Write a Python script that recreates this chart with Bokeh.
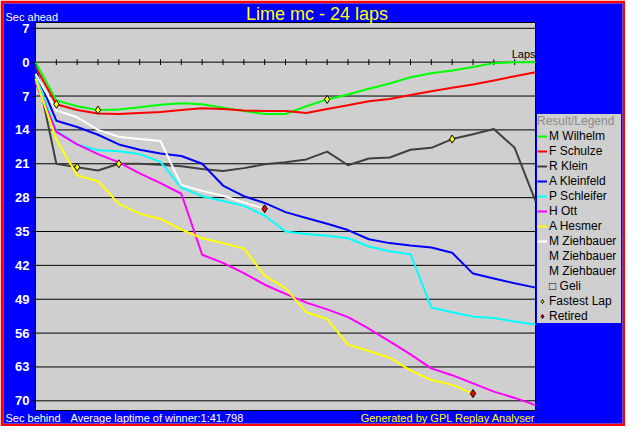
from bokeh.plotting import figure
from bokeh.models import Range1d, FixedTicker, Legend, LegendItem, Label, ColumnDataSource
from bokeh.embed import file_html
from bokeh.resources import INLINE

# ---------------- data ----------------
laps = list(range(25))

m_wilhelm = [0.0, 7.9, 9.1, 9.9, 9.8, 9.3, 8.8, 8.5, 8.7, 9.4, 10.1, 10.7, 10.7,
             9.1, 7.7, 6.7, 5.5, 4.4, 3.1, 2.3, 1.7, 1.0, 0.2, 0.0, 0.0]
f_schulze = [1.0, 8.7, 9.9, 10.6, 10.7, 10.5, 10.3, 9.9, 9.5, 9.7, 10.0, 10.1, 10.1,
             10.5, 9.7, 8.9, 8.1, 7.6, 6.8, 6.0, 5.3, 4.6, 3.8, 2.9, 2.1]
r_klein = [0.6, 21.0, 21.7, 22.4, 21.0, 21.0, 21.2, 21.5, 22.1, 22.5, 21.9, 21.1, 20.7,
           20.1, 18.5, 21.3, 19.9, 19.7, 18.1, 17.7, 15.9, 14.9, 13.8, 17.7, 28.7]
a_kleinfeld = [1.8, 12.1, 13.4, 15.0, 17.0, 18.1, 18.9, 19.4, 21.0, 25.5, 27.7, 29.1, 31.0,
               32.2, 33.4, 34.7, 36.6, 37.4, 37.9, 38.3, 39.4, 43.7, 44.7, 45.7, 46.6]
p_schleifer = [2.8, 14.2, 17.0, 18.2, 18.4, 19.0, 20.6, 25.9, 27.7, 28.7, 29.7, 31.7, 35.0,
               35.5, 35.9, 36.4, 38.1, 39.1, 39.7, 50.7, 51.7, 52.6, 52.9, 53.6, 54.2]
h_ott = [4.1, 14.4, 17.0, 19.0, 20.7, 23.0, 25.0, 27.2, 39.8, 41.5, 43.6, 46.0, 47.9,
         49.7, 51.1, 52.7, 55.1, 57.7, 60.4, 63.3, 64.7, 66.4, 68.1, 69.4, 70.9]
a_hesmer = [3.4, 16.0, 23.4, 24.6, 29.3, 31.3, 32.4, 34.6, 36.4, 37.4, 38.5, 44.1, 46.7,
            51.7, 53.1, 58.4, 59.7, 61.1, 63.7, 65.7, 66.7, 68.5]
m_ziehbauer = [2.4, 10.0, 11.4, 14.0, 15.4, 15.9, 16.3, 25.4, 26.6, 27.6, 29.0, 30.3]

fastest_lap_laps = [1, 2, 3, 4, 14, 20]
fastest_lap_gaps = [8.7, 21.7, 9.9, 21.0, 7.7, 15.9]
retired_laps = [11, 21]
retired_gaps = [30.3, 68.5]

y_ticks = [-7, 0, 7, 14, 21, 28, 35, 42, 49, 56, 63, 70]
y_labels = ["7", "0", "7", "14", "21", "28", "35", "42", "49", "56", "63", "70"]

drivers = [
    ("M Wilhelm", "#00FF00", m_wilhelm),
    ("F Schulze", "#FF0000", f_schulze),
    ("R Klein", "#404040", r_klein),
    ("A Kleinfeld", "#0000FF", a_kleinfeld),
    ("P Schleifer", "#00FFFF", p_schleifer),
    ("H Ott", "#FF00FF", h_ott),
    ("A Hesmer", "#FFFF00", a_hesmer),
    ("M Ziehbauer", "#FFFFFF", m_ziehbauer),
    ("M Ziehbauer", "#000000", []),
    ("M Ziehbauer", "#008080", []),
    ("\u25a1 Geli", "#808000", []),
]

FONT = "Liberation Sans"
FRAME_BG = "#CFCFCF"

# plot-area extent (data) and the blue margins around it (pixels)
LAP_MAX = 24
Y_TOP, Y_BOTTOM = -8.2, 72.0
BORDER = 3
CANVAS_W, CANVAS_H = 619, 420          # blue area inside the red border
PAD_L, PAD_R, PAD_T, PAD_B = 32, 87, 19, 13
GREY_W = CANVAS_W - PAD_L - PAD_R
px_lap = GREY_W / LAP_MAX
px_sec = (CANVAS_H - PAD_T - PAD_B) / (Y_BOTTOM - Y_TOP)

p = figure(width=CANVAS_W + 2 * BORDER, height=CANVAS_H + 2 * BORDER,
           output_backend="svg", toolbar_location=None,
           x_range=Range1d(-PAD_L / px_lap, LAP_MAX + PAD_R / px_lap),
           y_range=Range1d(Y_BOTTOM + PAD_B / px_sec, Y_TOP - PAD_T / px_sec),
           x_axis_location=None, min_border=BORDER)
p.title.visible = False
p.border_fill_color = "#FF0000"
p.background_fill_color = "#0000FF"
p.outline_line_color = None
for g in p.grid:
    g.visible = False

ax = p.yaxis[0]
ax.fixed_location = 0
ax.ticker = FixedTicker(ticks=y_ticks)
ax.major_label_overrides = {t: l for t, l in zip(y_ticks, y_labels)}
ax.axis_line_color = None
ax.major_tick_line_color = "black"
ax.major_tick_out = 3
ax.major_tick_in = 0
ax.minor_tick_line_color = None
ax.major_label_text_color = "white"
ax.major_label_text_font = FONT
ax.major_label_text_font_style = "bold"
ax.major_label_text_font_size = "13px"
ax.major_label_standoff = 3

# grey plotting area, grid lines and lap ticks
p.quad(left=0, right=LAP_MAX, top=Y_TOP, bottom=Y_BOTTOM,
       fill_color=FRAME_BG, line_color="black", line_width=1)
p.segment(x0=[0] * len(y_ticks), y0=y_ticks, x1=[LAP_MAX] * len(y_ticks), y1=y_ticks,
          line_color="black", line_width=1)
p.segment(x0=laps[1:], y0=[-0.6] * 24, x1=laps[1:], y1=[0.6] * 24,
          line_color="black", line_width=1)

items = []
for name, color, gaps in drivers:
    src = ColumnDataSource(data=dict(x=laps[:len(gaps)], y=gaps))
    r = p.line("x", "y", source=src, line_color=color, line_width=2)
    items.append(LegendItem(label=name, renderers=[r]))

fl = p.scatter(fastest_lap_laps, fastest_lap_gaps, marker="diamond", size=8,
               fill_color="#FFFF00", line_color="black", line_width=1)
rt = p.scatter(retired_laps, retired_gaps, marker="diamond", size=8,
               fill_color="#FF0000", line_color="black", line_width=1)
items.append(LegendItem(label="Fastest Lap", renderers=[fl]))
items.append(LegendItem(label="Retired", renderers=[rt]))

legend = Legend(items=items, location=(PAD_L + GREY_W + 2, 100), title="Result/Legend",
                title_text_color="#8C8C8C", title_text_font=FONT,
                title_text_font_style="normal", title_text_font_size="12px",
                title_standoff=1,
                label_text_font=FONT, label_text_font_size="12px", label_text_color="black",
                glyph_width=10, glyph_height=14, label_height=14, label_standoff=2,
                label_width=72, spacing=1, padding=3, margin=0,
                background_fill_color=FRAME_BG, background_fill_alpha=1.0,
                border_line_color=None)
p.add_layout(legend, "center")

# texts (screen units measured from the blue area's bottom-left)
def lab(x, y, text, color, size, align="left", baseline="middle", units="screen"):
    p.add_layout(Label(x=x, y=y, x_units=units, y_units=units, text=text, text_color=color,
                       text_font=FONT, text_font_size=size, text_align=align,
                       text_baseline=baseline))

lab(316, CANVAS_H - 10, "Lime  mc - 24 laps", "#FFFF00", "18px", align="center")
lab(2, CANVAS_H - 13, "Sec ahead", "white", "11px")
lab(2, 6, "Sec behind", "white", "11px")
lab(67, 6, "Average laptime of winner:1:41.798", "white", "11px")
lab(PAD_L + GREY_W, 6, "Generated by GPL Replay Analyser", "#FFFF00", "11px", align="right")
lab(LAP_MAX, -0.5, "Laps", "black", "11px", align="right", baseline="bottom", units="data")

open("out.html", "w").write(file_html(p, INLINE))
